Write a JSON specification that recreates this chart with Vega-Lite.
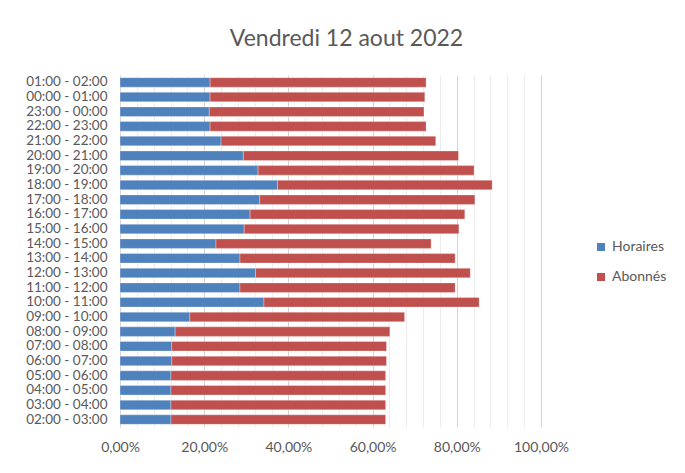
{
  "$schema": "https://vega.github.io/schema/vega-lite/v6.json",
  "autosize": {"type": "none"},
  "padding": {"left": 120, "top": 75, "right": 144, "bottom": 46},
  "width": 421,
  "height": 352,
  "background": "white",
  "title": {
    "text": "Vendredi 12 aout 2022",
    "anchor": "middle",
    "dx": 16,
    "offset": 24,
    "font": "Lato",
    "fontSize": 23,
    "fontWeight": "normal",
    "color": "#595959"
  },
  "data": {
    "values": [
      {"plage": "01:00 - 02:00", "serie": "Horaires", "ordre": 1, "valeur": 0.214},
      {"plage": "01:00 - 02:00", "serie": "Abonnés", "ordre": 2, "valeur": 0.513},
      {"plage": "00:00 - 01:00", "serie": "Horaires", "ordre": 1, "valeur": 0.214},
      {"plage": "00:00 - 01:00", "serie": "Abonnés", "ordre": 2, "valeur": 0.510},
      {"plage": "23:00 - 00:00", "serie": "Horaires", "ordre": 1, "valeur": 0.212},
      {"plage": "23:00 - 00:00", "serie": "Abonnés", "ordre": 2, "valeur": 0.510},
      {"plage": "22:00 - 23:00", "serie": "Horaires", "ordre": 1, "valeur": 0.214},
      {"plage": "22:00 - 23:00", "serie": "Abonnés", "ordre": 2, "valeur": 0.513},
      {"plage": "21:00 - 22:00", "serie": "Horaires", "ordre": 1, "valeur": 0.240},
      {"plage": "21:00 - 22:00", "serie": "Abonnés", "ordre": 2, "valeur": 0.510},
      {"plage": "20:00 - 21:00", "serie": "Horaires", "ordre": 1, "valeur": 0.293},
      {"plage": "20:00 - 21:00", "serie": "Abonnés", "ordre": 2, "valeur": 0.511},
      {"plage": "19:00 - 20:00", "serie": "Horaires", "ordre": 1, "valeur": 0.328},
      {"plage": "19:00 - 20:00", "serie": "Abonnés", "ordre": 2, "valeur": 0.513},
      {"plage": "18:00 - 19:00", "serie": "Horaires", "ordre": 1, "valeur": 0.374},
      {"plage": "18:00 - 19:00", "serie": "Abonnés", "ordre": 2, "valeur": 0.510},
      {"plage": "17:00 - 18:00", "serie": "Horaires", "ordre": 1, "valeur": 0.332},
      {"plage": "17:00 - 18:00", "serie": "Abonnés", "ordre": 2, "valeur": 0.511},
      {"plage": "16:00 - 17:00", "serie": "Horaires", "ordre": 1, "valeur": 0.309},
      {"plage": "16:00 - 17:00", "serie": "Abonnés", "ordre": 2, "valeur": 0.510},
      {"plage": "15:00 - 16:00", "serie": "Horaires", "ordre": 1, "valeur": 0.295},
      {"plage": "15:00 - 16:00", "serie": "Abonnés", "ordre": 2, "valeur": 0.510},
      {"plage": "14:00 - 15:00", "serie": "Horaires", "ordre": 1, "valeur": 0.228},
      {"plage": "14:00 - 15:00", "serie": "Abonnés", "ordre": 2, "valeur": 0.511},
      {"plage": "13:00 - 14:00", "serie": "Horaires", "ordre": 1, "valeur": 0.285},
      {"plage": "13:00 - 14:00", "serie": "Abonnés", "ordre": 2, "valeur": 0.511},
      {"plage": "12:00 - 13:00", "serie": "Horaires", "ordre": 1, "valeur": 0.322},
      {"plage": "12:00 - 13:00", "serie": "Abonnés", "ordre": 2, "valeur": 0.510},
      {"plage": "11:00 - 12:00", "serie": "Horaires", "ordre": 1, "valeur": 0.285},
      {"plage": "11:00 - 12:00", "serie": "Abonnés", "ordre": 2, "valeur": 0.511},
      {"plage": "10:00 - 11:00", "serie": "Horaires", "ordre": 1, "valeur": 0.342},
      {"plage": "10:00 - 11:00", "serie": "Abonnés", "ordre": 2, "valeur": 0.511},
      {"plage": "09:00 - 10:00", "serie": "Horaires", "ordre": 1, "valeur": 0.166},
      {"plage": "09:00 - 10:00", "serie": "Abonnés", "ordre": 2, "valeur": 0.510},
      {"plage": "08:00 - 09:00", "serie": "Horaires", "ordre": 1, "valeur": 0.131},
      {"plage": "08:00 - 09:00", "serie": "Abonnés", "ordre": 2, "valeur": 0.510},
      {"plage": "07:00 - 08:00", "serie": "Horaires", "ordre": 1, "valeur": 0.123},
      {"plage": "07:00 - 08:00", "serie": "Abonnés", "ordre": 2, "valeur": 0.510},
      {"plage": "06:00 - 07:00", "serie": "Horaires", "ordre": 1, "valeur": 0.123},
      {"plage": "06:00 - 07:00", "serie": "Abonnés", "ordre": 2, "valeur": 0.510},
      {"plage": "05:00 - 06:00", "serie": "Horaires", "ordre": 1, "valeur": 0.121},
      {"plage": "05:00 - 06:00", "serie": "Abonnés", "ordre": 2, "valeur": 0.510},
      {"plage": "04:00 - 05:00", "serie": "Horaires", "ordre": 1, "valeur": 0.121},
      {"plage": "04:00 - 05:00", "serie": "Abonnés", "ordre": 2, "valeur": 0.510},
      {"plage": "03:00 - 04:00", "serie": "Horaires", "ordre": 1, "valeur": 0.121},
      {"plage": "03:00 - 04:00", "serie": "Abonnés", "ordre": 2, "valeur": 0.510},
      {"plage": "02:00 - 03:00", "serie": "Horaires", "ordre": 1, "valeur": 0.121},
      {"plage": "02:00 - 03:00", "serie": "Abonnés", "ordre": 2, "valeur": 0.510}
    ]
  },
  "mark": {"type": "bar", "stroke": "white", "strokeWidth": 0.5, "strokeOpacity": 0.6},
  "encoding": {
    "y": {
      "field": "plage",
      "type": "nominal",
      "sort": null,
      "title": null,
      "scale": {"paddingInner": 0.35, "paddingOuter": 0.18},
      "axis": {
        "ticks": false,
        "grid": false,
        "domain": true,
        "domainColor": "#d9d9d9",
        "domainWidth": 1,
        "labelColor": "#595959",
        "labelFont": "Lato",
        "labelFontSize": 13.5,
        "labelPadding": 13
      }
    },
    "x": {
      "field": "valeur",
      "type": "quantitative",
      "stack": "zero",
      "title": null,
      "scale": {"domain": [0, 1], "nice": false},
      "axis": {
        "values": [0, 0.04, 0.08, 0.12, 0.16, 0.2, 0.24, 0.28, 0.32, 0.36, 0.4, 0.44, 0.48, 0.52, 0.56, 0.6, 0.64, 0.68, 0.72, 0.76, 0.8, 0.84, 0.88, 0.92, 0.96, 1],
        "labelExpr": "abs(datum.value*5-round(datum.value*5))<0.001 ? replace(format(datum.value*100,'.2f'),'.',',')+'%' : ''",
        "ticks": false,
        "domain": false,
        "grid": true,
        "gridColor": {"condition": {"test": "abs(datum.value*5-round(datum.value*5))<0.001", "value": "#d4d4d4"}, "value": "#ececec"},
        "gridWidth": 1,
        "labelColor": "#595959",
        "labelFont": "Lato",
        "labelFontSize": 14,
        "labelPadding": 13,
        "labelFlush": false,
        "labelOverlap": false
      }
    },
    "color": {
      "field": "serie",
      "type": "nominal",
      "scale": {"domain": ["Horaires", "Abonnés"], "range": ["#4F81BD", "#C0504D"]},
      "legend": {
        "title": null,
        "orient": "none",
        "legendX": 474,
        "legendY": 165,
        "symbolType": "square",
        "symbolSize": 64,
        "symbolStrokeWidth": 0,
        "symbolOpacity": 1,
        "labelColor": "#595959",
        "labelFont": "Lato",
        "labelFontSize": 14,
        "labelOffset": 4,
        "rowPadding": 16
      }
    },
    "order": {"field": "ordre", "type": "quantitative"}
  },
  "config": {"view": {"stroke": null}}
}
